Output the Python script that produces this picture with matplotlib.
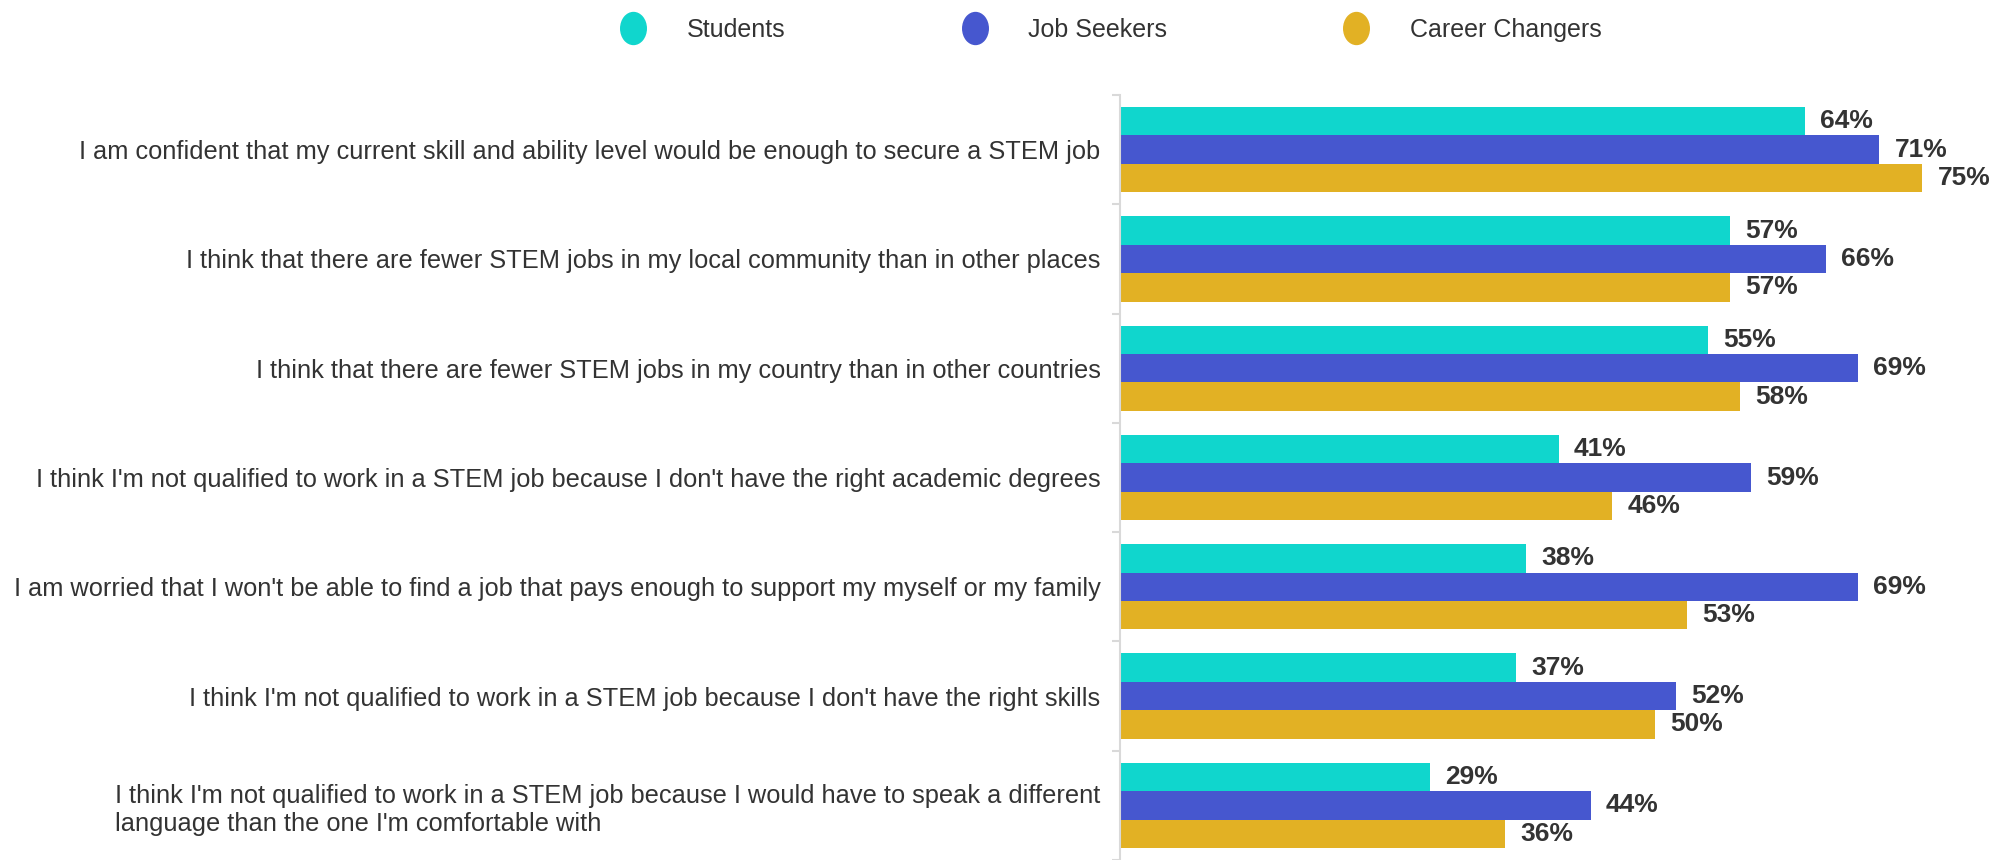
import matplotlib
matplotlib.use('Agg')
import matplotlib.pyplot as plt
import numpy as np
from matplotlib.lines import Line2D
from matplotlib.path import Path
from matplotlib.transforms import Affine2D

# 数据
categories = [
    "I am confident that my current skill and ability level would be enough to secure a STEM job",
    "I think that there are fewer STEM jobs in my local community than in other places",
    "I think that there are fewer STEM jobs in my country than in other countries",
    "I think I'm not qualified to work in a STEM job because I don't have the right academic degrees",
    "I am worried that I won't be able to find a job that pays enough to support my myself or my family",
    "I think I'm not qualified to work in a STEM job because I don't have the right skills",
    "I think I'm not qualified to work in a STEM job because I would have to speak a different\nlanguage than the one I'm comfortable with",
]
series_names = ["Students", "Job Seekers", "Career Changers"]
students = [64, 57, 55, 41, 38, 37, 29]
job_seekers = [71, 66, 69, 59, 69, 52, 44]
career_changers = [75, 57, 58, 46, 53, 50, 36]

COLORS = ["#10D6CD", "#4657CF", "#E2B124"]
TEXT_COLOR = "#333333"

plt.rcParams['font.family'] = ['Liberation Sans', 'DejaVu Sans']

fig = plt.figure(figsize=(19.95, 8.6), dpi=100)
ax = fig.add_axes([1120 / 1995, 0.0, 1 - 1120 / 1995, (860 - 95) / 860])

y = np.arange(len(categories))
h = 0.26
for k, (vals, color) in enumerate(zip([students, job_seekers, career_changers], COLORS)):
    pos = y + (k - 1) * h
    ax.barh(pos, vals, height=h, color=color, label=series_names[k])
    for yy, v in zip(pos, vals):
        ax.annotate(f"{v}%", (v, yy), xytext=(11, 0), textcoords='offset points',
                    va='center', ha='left', fontsize=19, fontweight='bold',
                    color=TEXT_COLOR, annotation_clip=False)

ax.set_xlim(0, 81.8)
ax.set_ylim(len(categories) - 0.5, -0.5)
ax.set_xticks([])
ax.set_yticks(y)
ax.set_yticklabels(categories, fontsize=18.3, color=TEXT_COLOR)
for lbl in ax.get_yticklabels():
    lbl.set_multialignment('left')
ax.tick_params(axis='y', which='major', length=0, pad=14)
ax.set_yticks(np.arange(len(categories) + 1) - 0.5, minor=True)
ax.tick_params(axis='y', which='minor', length=6, color="#d9d9d9", width=1.5)

for side in ['top', 'right', 'bottom']:
    ax.spines[side].set_visible(False)
ax.spines['left'].set_color("#d9d9d9")
ax.spines['left'].set_linewidth(1.5)

# 椭圆形图例标记
oval = Path.unit_circle().transformed(Affine2D().scale(0.8, 1.0))
handles = [Line2D([], [], marker=oval, linestyle='none', markersize=23,
                  markerfacecolor=c, markeredgecolor=c) for c in COLORS]
fig.legend(handles, series_names, loc='center', bbox_to_anchor=(1105 / 1995, 1 - 30 / 860),
           ncol=3, frameon=False, fontsize=18, handletextpad=1.15, columnspacing=6.55,
           labelcolor=TEXT_COLOR)

fig.savefig("out.png", dpi=100)
